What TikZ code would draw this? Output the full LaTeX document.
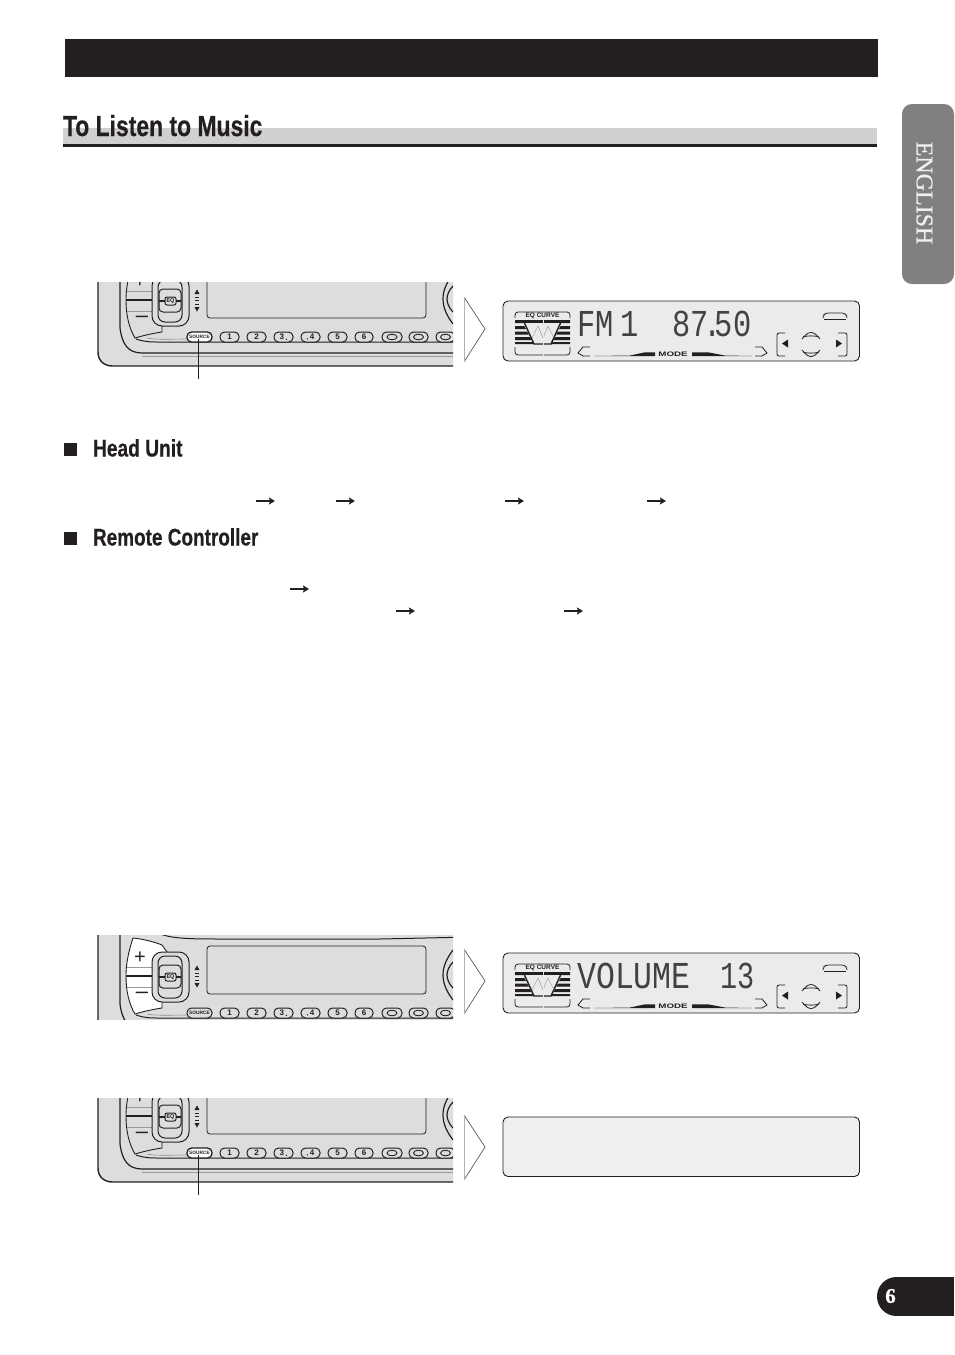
\documentclass[tikz,border=0pt]{standalone}
\usepackage{fontspec}
\setmainfont{Liberation Sans}
\newfontfamily\serf[FakeBold=.6]{Liberation Serif}
\newfontfamily\lcdfont{Liberation Mono}
\newfontfamily\heavy[FakeBold=.5]{Liberation Sans}
\newfontfamily\symb{DejaVu Sans}
\definecolor{ink}{HTML}{231F20}
\definecolor{face}{HTML}{DDDDDD}
\definecolor{lcdbg}{HTML}{EBEBEB}
\definecolor{lcdoff}{HTML}{EFEFEF}
\definecolor{band}{HTML}{D0D0D0}
\definecolor{tabgrey}{HTML}{808080}
\usetikzlibrary{arrows.meta}
\tikzset{
  txt/.style={inner sep=0pt,outer sep=0pt,anchor=base west,text=ink},
  btn/.style={draw=ink,line width=1pt,rounded corners=4.5pt,fill=face},
  seg/.style={inner sep=0pt,anchor=base west,text=ink!85,font=\fontsize{38}{38}\lcdfont},
  lcdline/.style={draw=ink,line width=.8pt},
  chev/.style={draw=black!65,line width=.7pt},
  flow/.style={draw=ink,line width=2pt,-{Stealth[length=6pt,width=7pt,inset=1pt]}},
  lead/.style={draw=ink,line width=1.8pt},
}
% #1 id, #2 dy, #3 clip top, #4 clip bottom (unit coords), #5 rocker fill, #6 source fill, #7 source line
\newcommand\headunit[7]{%
\begin{scope}[shift={(0,#2)}]
\begin{scope}
\clip (97,#3) rectangle (453,#4);
\fill[face,draw=ink,line width=1.4pt] (98,230) -- (98,352) .. controls (98,361) and (104,366) .. (113,366) -- (470,366) -- (470,230) -- cycle;
\draw[ink,line width=1pt] (160,258) .. controls (175,263) and (190,263) .. (230,263) -- (380,263) -- (470,261);
\draw[ink,line width=1.2pt] (120,230) -- (120,328) .. controls (122,344) and (128,353) .. (142,353) -- (470,353);
\draw[ink!45,line width=.7pt] (142,356) -- (470,356);
\draw[ink,line width=.9pt,fill=#5] (133,262) .. controls (127,280) and (126,292) .. (126,300) .. controls (126,315) and (129,328) .. (135,338) .. controls (145,335) and (155,333) .. (162,332) -- (162,320) -- (170,280) -- (162,269) .. controls (152,265) and (142,263) .. (133,262) -- cycle;
\draw[black!40,line width=.7pt] (127,291) -- (153,291) (127,311) -- (153,311);
\draw[ink,line width=1.5pt] (126,300) -- (153,300);
\node[txt,anchor=center,font=\fontsize{20}{20}\selectfont] (plus#1) at (140,282) {+};
\node[txt,anchor=center,font=\fontsize{22}{22}\selectfont] (minus#1) at (142,319) {–};
\draw[ink,line width=1pt] (136,339) .. controls (145,342) and (150,342) .. (160,342) -- (470,342);
\draw[black!45,line width=.6pt] (147,338) .. controls (155,340) and (175,339) .. (187,339);
\draw[ink,line width=1pt,fill=face,rounded corners=10pt] (152,276) rectangle (189,326);
\draw[ink,line width=1pt,rounded corners=7pt] (158,280) rectangle (182,322);
\draw[ink,line width=1pt,rounded corners=4pt] (159,289) rectangle (181,312);
\draw[ink,line width=1.6pt] (159,301) -- (165,301) (176,301) -- (181,301);
\node[btn,rounded corners=2pt,minimum width=11pt,minimum height=8pt,inner sep=0pt,font=\fontsize{5.5}{5.5}\bfseries\selectfont,text=ink] (eq#1) at (170.5,301) {EQ};
\fill[ink] (197,289.5) -- (199.5,294) -- (194.5,294) -- cycle (197,311.5) -- (199.5,307) -- (194.5,307) -- cycle;
\draw[ink,line width=.6pt] (195,297) -- (199,297) (195,300.5) -- (199,300.5) (195,304) -- (199,304);
\draw[ink,line width=.8pt,rounded corners=3pt] (207,270) rectangle (426,318);
\draw[ink,line width=1.2pt] (453,274) .. controls (447,282) and (443,290) .. (443,299) .. controls (443,308) and (447,316) .. (453,324);
\draw[ink,line width=1.2pt] (453,286) .. controls (449,290) and (447,295) .. (447,299) .. controls (447,303) and (449,308) .. (453,312);
\draw[line width=#7,draw=ink,fill=#6,rounded corners=4.5pt] (187,332) rectangle (212,342);
\node[inner sep=0pt,font=\fontsize{4.8}{4.8}\bfseries\selectfont,text=ink] (src#1) at (199.5,337) {SOURCE};
\foreach \a/\b/\t/\k in {220/239/1/a,247/266/2/b,274/293/3\,\raisebox{-.5pt}{\fontsize{3.5}{3.5}\symb ▴}/c,301/320/\raisebox{-.5pt}{\fontsize{3.5}{3.5}\symb ▾}\,4/d,328/347/5/e,355/373/6/f}{
  \draw[btn] (\a,332) rectangle (\b,342);
  \node[inner sep=0pt,font=\fontsize{8}{8}\bfseries\selectfont,text=ink] (b\k#1) at ({(\a+\b)/2},337) {\t};
}
\foreach \a/\b in {382/402,409/428,436/455}{
  \draw[btn] (\a,332) rectangle (\b,342);
  \draw[ink,line width=.9pt] ({(\a+\b)/2},337) ellipse[x radius=5pt,y radius=2.8pt];
}
\end{scope}
\end{scope}}
% #1 dy
\newcommand\lcdpanel[1]{%
\begin{scope}[shift={(0,#1)}]
\draw[ink,line width=.9pt,fill=lcdbg,rounded corners=5pt] (503,301) rectangle (859.5,361);
\draw[lcdline,rounded corners=3pt] (515,318) -- (515,312) -- (570,312) -- (570,318);
\draw[lcdline,rounded corners=3pt] (515,347) -- (515,355) -- (570,355) -- (570,347);
\fill[ink] (515,320) rectangle (570,323) (515,326) rectangle (570,329) (515,331.5) rectangle (570,334.5) (515,337) rectangle (570,340) (515,342) rectangle (570,344);
\fill[lcdbg] (523,323) -- (534,344.5) -- (551,344.5) -- (562,323) -- cycle;
\draw[ink,line width=1.4pt] (524,322) -- (534,344) -- (551,344) -- (561,322);
\draw[black!45,line width=.4pt] (532,338) -- (538,326) -- (543,338) -- (548,326) -- (554,338);
\draw[lcdbg,line width=1pt] (543,319) -- (543,357);
\node[inner sep=0pt,font=\fontsize{6.5}{6.5}\bfseries\selectfont,text=ink] (eqc#1) at (542.5,316) {EQ CURVE};
\draw[lcdline] (590,347) -- (583,347) -- (578,353) -- (583,356) -- (590,356);
\draw[lcdline] (755,347) -- (762,347) -- (767,353) -- (762,356) -- (755,356);
\fill[ink] (594,356) -- (630,355.5) -- (645,352.3) -- (655,352.3) -- (655,356) -- cycle;
\fill[ink] (692,352.3) -- (708,352.3) -- (725,355.5) -- (752,356) -- (692,356) -- cycle;
\node[inner sep=0pt,font=\fontsize{6.5}{6.5}\bfseries\selectfont,text=ink] (mode#1) at (673,354.5) {\scalebox{1.5}[1]{MODE}};
\draw[ink,line width=.7pt,rounded corners=2pt] (823,318) -- (823,315.5) -- (826,313) -- (844,313) -- (847,315.5) -- (847,318);
\draw[ink,line width=.7pt] (824,319) -- (846,319);
\draw[lcdline,rounded corners=2pt] (785,333) -- (777,333) -- (777,356) -- (785,356);
\draw[lcdline,rounded corners=2pt] (838,333) -- (847,333) -- (847,356) -- (838,356);
\fill[ink] (782,343.5) -- (788,339.5) -- (788,347.5) -- cycle;
\fill[ink] (842,343.5) -- (836,339.5) -- (836,347.5) -- cycle;
\draw[ink,line width=.8pt] (802,339) .. controls (805,335) and (808,332.5) .. (811,332.5) .. controls (814,332.5) and (817,335) .. (820,339);
\draw[ink,line width=.8pt] (803,337) .. controls (806,335.5) and (816,335.5) .. (819,337);
\draw[ink,line width=.8pt] (802,350) .. controls (805,354) and (808,356.5) .. (811,356.5) .. controls (814,356.5) and (817,354) .. (820,350);
\draw[ink,line width=.8pt] (803,352) .. controls (806,353.5) and (816,353.5) .. (819,352);
\end{scope}}
\newcommand\chevron[1]{\draw[chev] (464,#1-32) -- (485,#1) -- (464,#1+33);\draw[draw=black!30,line width=.5pt] (464,#1-32) -- (464,#1+33);}
\begin{document}
\begin{tikzpicture}[x=1pt,y=-1pt]
\useasboundingbox (0,0) rectangle (954,1355);
\fill[white] (0,0) rectangle (954,1355);
% header
\fill[ink] (65,39) rectangle (878,77);
\fill[band] (63,128) rectangle (877,144);
\fill[ink] (63,144) rectangle (877,147);
\node[txt,font=\fontsize{29}{29}\heavy\bfseries\selectfont] (title) at (63,136) {\scalebox{.79}[1]{To Listen to Music}};
% language tab
\fill[tabgrey,rounded corners=10pt] (954,104) -- (902,104) -- (902,284) -- (954,284) -- cycle;
\node[rotate=-90,inner sep=0pt,text=black!6,font=\fontsize{24}{24}\serf\selectfont] (lang) at (924.5,193) {ENGLISH};
% page tab
\fill[ink] (896.5,1296.5) circle[radius=19.5pt];
\fill[ink] (896.5,1277) rectangle (954,1316);
\node[inner sep=0pt,text=white,font=\fontsize{21}{21}\serf\bfseries\selectfont] (page) at (890.5,1296) {6};
% unit 1
\headunit{A}{0}{282}{367}{face}{white}{1.3pt}
\chevron{329}
\lcdpanel{0}
\node[seg] (fm) at (577,336) {\scalebox{.8}[1]{FM\kern-14pt\ 1}};
\node[seg] (freq) at (672,336) {\scalebox{.8}[1]{87\kern-7pt.\kern-8pt50}};
\coordinate (leadA) at (198.5,379);
\draw[lead] (srcA.south) ++(-1,0) -- (leadA);
% section headings
\fill[ink] (64,443) rectangle (77,456);
\node[txt,font=\fontsize{24}{24}\heavy\bfseries\selectfont] (hu) at (93,456.5) {\scalebox{.8}[1]{Head Unit}};
\coordinate (a1) at (256,501);\coordinate (a2) at (275,501);
\coordinate (b1) at (336,501);\coordinate (b2) at (355,501);
\coordinate (c1) at (505,501);\coordinate (c2) at (524,501);
\coordinate (d1) at (647,501);\coordinate (d2) at (666,501);
\draw[flow] (a1) -- (a2);\draw[flow] (b1) -- (b2);\draw[flow] (c1) -- (c2);\draw[flow] (d1) -- (d2);
\fill[ink] (64,532) rectangle (77,545);
\node[txt,font=\fontsize{24}{24}\heavy\bfseries\selectfont] (rc) at (93,545.5) {\scalebox{.79}[1]{Remote Controller}};
\coordinate (e1) at (290,589);\coordinate (e2) at (309,589);
\coordinate (f1) at (396,611);\coordinate (f2) at (415,611);
\coordinate (g1) at (564,611);\coordinate (g2) at (583,611);
\draw[flow] (e1) -- (e2);\draw[flow] (f1) -- (f2);\draw[flow] (g1) -- (g2);
% unit 2
\headunit{B}{676}{259}{343}{white}{face}{1pt}
\chevron{981}
\lcdpanel{652}
\node[seg] (vol) at (577,988) {\scalebox{.83}[1]{VOLUME}};
\node[seg] (volnum) at (720,988) {\scalebox{.75}[1]{13}};
% unit 3
\headunit{C}{816}{282}{367}{face}{white}{1.3pt}
\chevron{1147}
\draw[ink,line width=.9pt,fill=lcdoff,rounded corners=5pt] (503,1117) rectangle (859.5,1176.5);
\coordinate (leadC) at (198.5,1195);
\draw[lead] (srcC.south) ++(-1,0) -- (leadC);
\end{tikzpicture}
\end{document}
